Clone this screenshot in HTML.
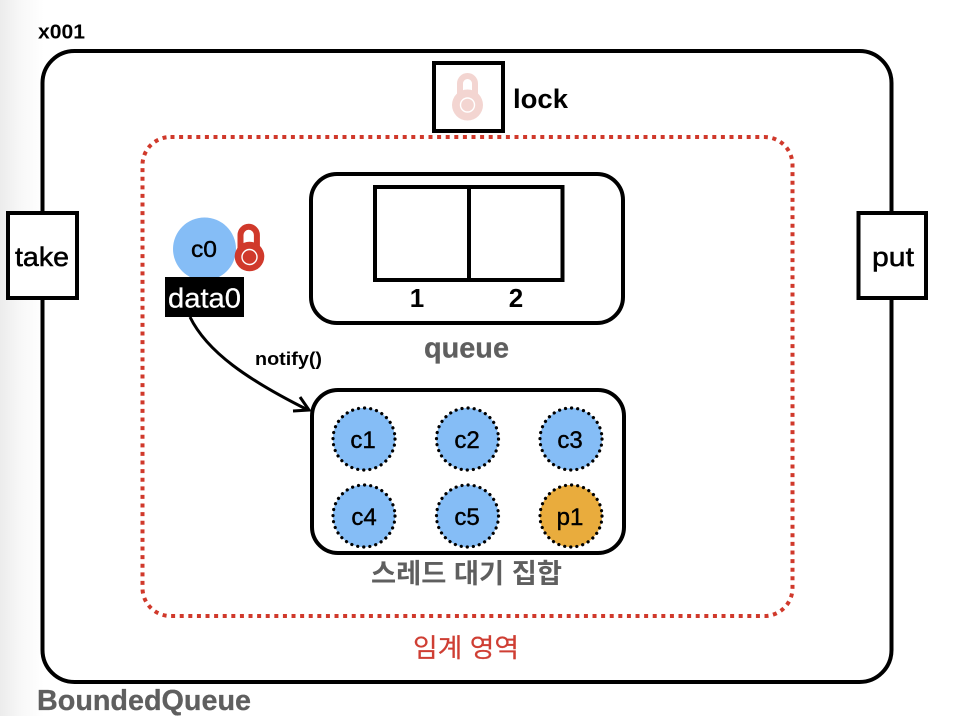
<!DOCTYPE html>
<html>
<head>
<meta charset="utf-8">
<style>
html,body{margin:0;padding:0;background:#fff;}
svg{display:block;}
text{font-family:"Liberation Sans","Noto Sans CJK KR",sans-serif;}
</style>
</head>
<body>
<svg width="962" height="716" viewBox="0 0 962 716" xmlns="http://www.w3.org/2000/svg">
<defs>
<linearGradient id="edge" x1="0" x2="1" y1="0" y2="0">
<stop offset="0" stop-color="#ececec"/>
<stop offset="0.5" stop-color="#f8f8f8"/>
<stop offset="1" stop-color="#ffffff"/>
</linearGradient>
</defs>
<rect x="0" y="0" width="962" height="716" fill="#fff"/>
<rect x="0" y="0" width="44" height="716" fill="url(#edge)"/>

<rect x="42.5" y="51" width="849" height="631" rx="32" fill="#fff" stroke="#000" stroke-width="4"/>
<text x="38" y="38.500" font-size="20" font-weight="700" fill="#000" textLength="47" lengthAdjust="spacingAndGlyphs">x001</text>
<text x="37" y="710" font-size="28.500" font-weight="700" fill="#5f5f5f" stroke="#5f5f5f" stroke-width="0.300" textLength="214" lengthAdjust="spacingAndGlyphs">BoundedQueue</text>

<rect x="142.5" y="137" width="650" height="479" rx="28" fill="none" stroke="#d0392b" stroke-width="4" stroke-dasharray="4 4.6"/>
<text x="413" y="657" font-size="26" fill="#cf3e33" stroke="#cf3e33" stroke-width="0.2" textLength="106" lengthAdjust="spacingAndGlyphs">임계 영역</text>

<rect x="8" y="213" width="69" height="85" fill="#fff" stroke="#000" stroke-width="4"/>
<text x="15" y="266" font-size="27" fill="#000" stroke="#000" stroke-width="0.5" textLength="54" lengthAdjust="spacingAndGlyphs">take</text>
<rect x="858.5" y="213" width="67.5" height="85" fill="#fff" stroke="#000" stroke-width="4"/>
<text x="872" y="266" font-size="27" fill="#000" stroke="#000" stroke-width="0.5" textLength="42" lengthAdjust="spacingAndGlyphs">put</text>

<rect x="434" y="63" width="69" height="68" fill="#fff" stroke="#000" stroke-width="4"/>
<path d="M460 98 V83.500 a7.500 7.500 0 0 1 15 0 V98" fill="none" stroke="#f3d5d1" stroke-width="6"/>
<circle cx="467.500" cy="105" r="15.500" fill="#f3d5d1"/>
<circle cx="467.500" cy="105" r="7" fill="none" stroke="#fff" stroke-width="1.400"/>
<text x="513" y="108" font-size="27" font-weight="700" fill="#000" textLength="55" lengthAdjust="spacingAndGlyphs">lock</text>

<rect x="311" y="174" width="312" height="149" rx="26" fill="#fff" stroke="#000" stroke-width="4"/>
<rect x="375" y="187" width="187.500" height="93" fill="#fff" stroke="#000" stroke-width="4"/>
<line x1="469" y1="186" x2="469" y2="280" stroke="#000" stroke-width="4"/>
<text x="417" y="307" font-size="26" font-weight="700" fill="#000" text-anchor="middle">1</text>
<text x="516" y="307" font-size="26" font-weight="700" fill="#000" text-anchor="middle">2</text>
<text x="424" y="357.500" font-size="28.500" font-weight="700" fill="#5f5f5f" stroke="#5f5f5f" stroke-width="0.300" textLength="85" lengthAdjust="spacingAndGlyphs">queue</text>

<circle cx="204.500" cy="249" r="31.500" fill="#85bdf6"/>
<text x="191" y="257" font-size="23" fill="#000" stroke="#000" stroke-width="0.4" textLength="26" lengthAdjust="spacingAndGlyphs">c0</text>
<path d="M240.500 248 V235 a8.200 8.200 0 0 1 16.400 0 V248" fill="none" stroke="#d0392b" stroke-width="6"/>
<circle cx="249.500" cy="256.500" r="14.800" fill="#d0392b"/>
<circle cx="249.500" cy="257" r="7.500" fill="none" stroke="#fff" stroke-width="1.400"/>
<rect x="165" y="277" width="79" height="40" fill="#000"/>
<text x="168" y="307.500" font-size="28" fill="#fff" stroke="#fff" stroke-width="0.3" textLength="73" lengthAdjust="spacingAndGlyphs">data0</text>

<path d="M190 317 C 207 352, 248 380, 308 410" fill="none" stroke="#000" stroke-width="3"/>
<path d="M300 397 L309 410 L293 411" fill="none" stroke="#000" stroke-width="3"/>
<text x="255" y="365" font-size="18.500" font-weight="700" fill="#000" textLength="67" lengthAdjust="spacingAndGlyphs">notify()</text>

<rect x="312" y="390" width="312" height="163" rx="26" fill="#fff" stroke="#000" stroke-width="4"/>
<g stroke="#000" stroke-width="3.200" stroke-dasharray="0.100 6" stroke-linecap="round">
<circle cx="364" cy="439" r="31" fill="#85bdf6"/>
<circle cx="467.500" cy="439" r="31" fill="#85bdf6"/>
<circle cx="571" cy="439" r="31" fill="#85bdf6"/>
<circle cx="364" cy="516" r="31" fill="#85bdf6"/>
<circle cx="467.500" cy="516" r="31" fill="#85bdf6"/>
<circle cx="571" cy="516" r="31" fill="#e9ac3d"/>
</g>
<g font-size="24" fill="#000" stroke="#000" stroke-width="0.400" text-anchor="middle">
<text x="363" y="448">c1</text>
<text x="467" y="448">c2</text>
<text x="570" y="448">c3</text>
<text x="364" y="525">c4</text>
<text x="467" y="525">c5</text>
<text x="570" y="525">p1</text>
</g>
<text x="371" y="583" font-size="27" font-weight="700" fill="#5f5f5f" textLength="191" lengthAdjust="spacingAndGlyphs">스레드 대기 집합</text>
</svg>
</body>
</html>
